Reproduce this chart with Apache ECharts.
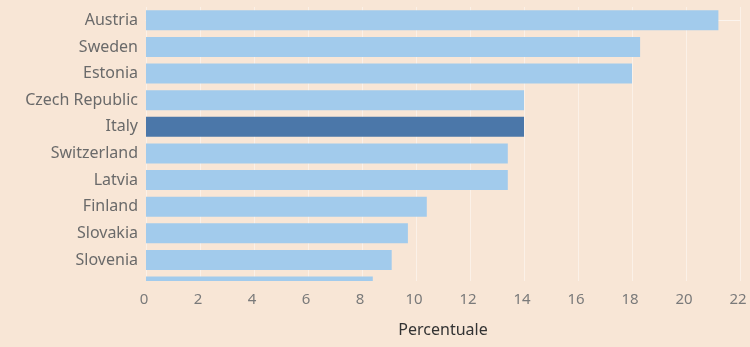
<!DOCTYPE html>
<html>
<head>
<meta charset="utf-8">
<script src="https://cdn.jsdelivr.net/npm/echarts@6/dist/echarts.min.js"></script>
<style>
html,body{margin:0;padding:0;background:#f8e6d6;}
#chart{width:750px;height:347px;}
</style>
</head>
<body>
<div id="chart"></div>
<script>
const categories = ['Austria','Sweden','Estonia','Czech Republic','Italy','Switzerland','Latvia','Finland','Slovakia','Slovenia',''];
const values = [21.2, 18.3, 18.0, 14.0, 14.0, 13.4, 13.4, 10.4, 9.7, 9.1, 8.4];
const highlight = 'Italy';
const xTicks = {min: 0, max: 22, interval: 2};
const xName = 'Percentuale';

const FONT = '"Noto Sans", sans-serif';
const chart = echarts.init(document.getElementById('chart'), null, {renderer: 'canvas'});
const data = values.map((v, i) => [v, i]);

chart.setOption({
  backgroundColor: '#f8e6d6',
  animation: false,
  grid: {left: 146, right: 10, top: 7, bottom: 66, containLabel: false},
  xAxis: {
    type: 'value', min: xTicks.min, max: xTicks.max, interval: xTicks.interval,
    name: xName, nameLocation: 'middle', nameGap: 41,
    nameTextStyle: {color: '#333', fontSize: 16, fontFamily: FONT},
    axisLine: {show: true, lineStyle: {color: '#fbf4ee', width: 1}},
    axisTick: {show: false},
    axisLabel: {color: '#7a7a7a', fontSize: 15, fontFamily: FONT, margin: 11, padding: [0, 4, 0, 0]},
    splitLine: {show: true, lineStyle: {color: 'rgba(255,255,255,0.45)', width: 1}}
  },
  yAxis: {
    type: 'value', inverse: true, min: -0.5, max: 9.79, interval: 0.5,
    axisLine: {show: false}, axisTick: {show: false}, splitLine: {show: false},
    axisLabel: {
      color: '#6a6a6a', fontSize: 16, fontFamily: FONT, margin: 8,
      formatter: v => (Number.isInteger(v) && categories[v] !== undefined) ? categories[v] : ''
    }
  },
  series: [{
    type: 'custom',
    data: data,
    encode: {x: 0, y: 1},
    renderItem: function (params, api) {
      const v = api.value(0), idx = api.value(1);
      const p0 = api.coord([0, idx]);
      const p1 = api.coord([v, idx]);
      const h = Math.abs(api.size([0, 1])[1]) * 0.75;
      const cs = params.coordSys;
      const shape = echarts.graphic.clipRectByRect(
        {x: p0[0], y: p0[1] - h / 2, width: p1[0] - p0[0], height: h},
        {x: cs.x, y: cs.y, width: cs.width, height: cs.height}
      );
      if (!shape) return;
      return {
        type: 'rect', shape: shape,
        style: {fill: categories[idx] === highlight ? '#4b77a9' : '#a2cbec'}
      };
    }
  }]
});
</script>
</body>
</html>
